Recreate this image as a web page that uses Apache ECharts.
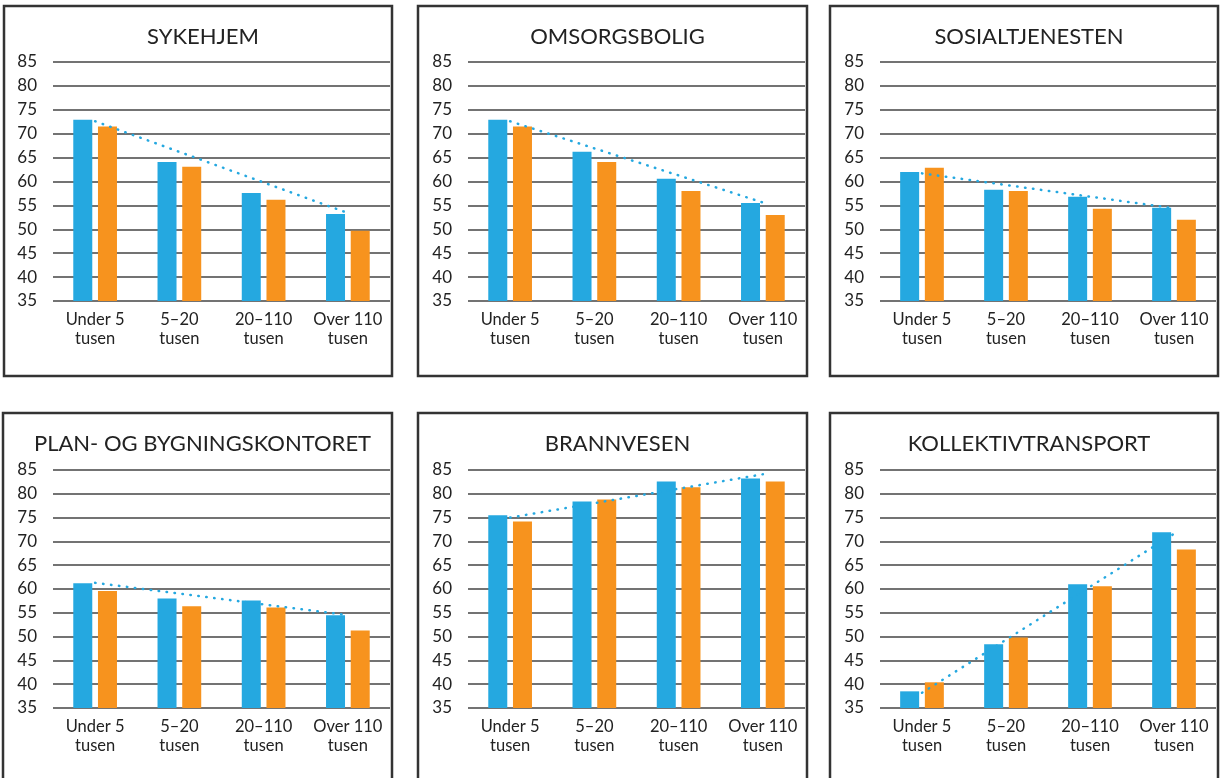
<!DOCTYPE html>
<html>
<head>
<meta charset="utf-8">
<script src="https://cdn.jsdelivr.net/npm/echarts@6/dist/echarts.min.js"></script>
<style>
  html, body { margin: 0; padding: 0; background: #fff; }
  #chart { width: 1225px; height: 778px; }
</style>
</head>
<body>
<div id="chart"></div>
<script>
// ---- Data ----
const categories = ['Under 5\ntusen', '5\u201320\ntusen', '20\u2013110\ntusen', 'Over 110\ntusen'];
const panelTitles = ['SYKEHJEM', 'OMSORGSBOLIG', 'SOSIALTJENESTEN', 'PLAN- OG BYGNINGSKONTORET', 'BRANNVESEN', 'KOLLEKTIVTRANSPORT'];

const sykehjemBlue   = [72.9, 64.1, 57.6, 53.2];
const sykehjemOrange = [71.5, 63.1, 56.2, 49.7];
const sykehjemTrend  = [72.6, null, null, 53.4];

const omsorgsboligBlue   = [72.9, 66.2, 60.6, 55.5];
const omsorgsboligOrange = [71.5, 64.1, 58.0, 53.0];
const omsorgsboligTrend  = [72.6, null, null, 55.6];

const sosialBlue   = [62.0, 58.3, 56.8, 54.5];
const sosialOrange = [62.9, 58.0, 54.3, 52.0];
const sosialTrend  = [61.7, null, null, 54.4];

const planBlue   = [61.2, 58.0, 57.6, 54.5];
const planOrange = [59.6, 56.4, 56.1, 51.3];
const planTrend  = [61.3, null, null, 54.5];

const brannBlue   = [75.5, 78.4, 82.6, 83.2];
const brannOrange = [74.2, 78.8, 81.4, 82.6];
const brannTrend  = [75.0, null, null, 84.1];

const kollektivBlue   = [38.5, 48.4, 61.0, 71.9];
const kollektivOrange = [40.4, 49.8, 60.6, 68.3];
const kollektivTrend  = [38.2, null, null, 71.6];

const yMin = 35, yMax = 85, yStep = 5;

const blueSets   = [sykehjemBlue, omsorgsboligBlue, sosialBlue, planBlue, brannBlue, kollektivBlue];
const orangeSets = [sykehjemOrange, omsorgsboligOrange, sosialOrange, planOrange, brannOrange, kollektivOrange];
const trendSets  = [sykehjemTrend, omsorgsboligTrend, sosialTrend, planTrend, brannTrend, kollektivTrend];

// ---- Layout ----
const boxes = [
  {x: 4,   y: 6,   w: 388, h: 370},
  {x: 418, y: 6,   w: 389, h: 370},
  {x: 830, y: 6,   w: 388, h: 370},
  {x: 3,   y: 413, w: 389, h: 380},
  {x: 418, y: 413, w: 389, h: 380},
  {x: 830, y: 413, w: 388, h: 380}
];
const grids = [
  {left: 53,  top: 62,  width: 337, height: 239},
  {left: 468, top: 62,  width: 337, height: 239},
  {left: 880, top: 62,  width: 336, height: 239},
  {left: 53,  top: 470, width: 337, height: 238},
  {left: 468, top: 470, width: 337, height: 238},
  {left: 880, top: 470, width: 336, height: 238}
];
const titleY = [21, 21, 21, 428, 428, 428];

const BLUE = '#25a8e0', ORANGE = '#f7931e', FONT = 'Lato, "Open Sans", sans-serif';

const option = {
  animation: false,
  backgroundColor: '#fff',
  title: [], grid: [], xAxis: [], yAxis: [], series: [],
  graphic: boxes.map(b => ({
    type: 'rect', z: 100,
    shape: {x: b.x, y: b.y, width: b.w, height: b.h},
    style: {fill: 'none', stroke: '#333', lineWidth: 2.5}
  }))
};

for (let i = 0; i < 6; i++) {
  const b = boxes[i];
  option.title.push({
    text: panelTitles[i],
    left: b.x + b.w / 2, top: titleY[i], textAlign: 'center',
    textStyle: {fontFamily: FONT, fontSize: 22, fontWeight: 'normal', color: '#222'}
  });
  option.grid.push(Object.assign({containLabel: false}, grids[i]));
  option.xAxis.push({
    type: 'category', gridIndex: i, data: categories,
    axisLine: {show: false}, axisTick: {show: false},
    axisLabel: {fontFamily: FONT, fontSize: 16.5, color: '#222', lineHeight: 19, margin: 9, interval: 0}
  });
  option.yAxis.push({
    type: 'value', gridIndex: i, min: yMin, max: yMax, interval: yStep,
    axisLine: {show: false}, axisTick: {show: false},
    axisLabel: {fontFamily: FONT, fontSize: 17, color: '#222', margin: 16},
    splitLine: {lineStyle: {color: '#444', width: 1.5}}
  });
  option.series.push({
    type: 'bar', xAxisIndex: i, yAxisIndex: i, data: blueSets[i],
    barWidth: 19, barGap: '30%', itemStyle: {color: BLUE}
  });
  option.series.push({
    type: 'bar', xAxisIndex: i, yAxisIndex: i, data: orangeSets[i],
    barWidth: 19, barGap: '30%', itemStyle: {color: ORANGE}
  });
  option.series.push({
    type: 'line', xAxisIndex: i, yAxisIndex: i, data: trendSets[i],
    connectNulls: true, symbol: 'none', z: 5,
    lineStyle: {color: BLUE, width: 2.5, type: [0.5, 7.5], cap: 'round'}
  });
}

const chart = echarts.init(document.getElementById('chart'), null, {renderer: 'canvas'});
chart.setOption(option);
</script>
</body>
</html>
